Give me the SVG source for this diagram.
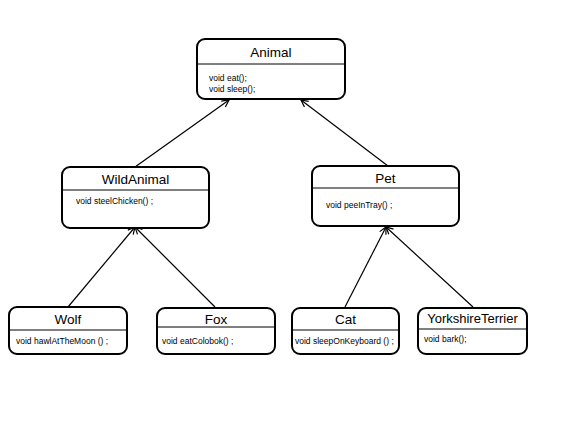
<svg xmlns="http://www.w3.org/2000/svg" width="570" height="428" viewBox="0 0 570 428">
<defs>
<marker id="arr" markerUnits="userSpaceOnUse" markerWidth="12" markerHeight="12" viewBox="-10 -6 12 12" refX="0" refY="0" orient="auto">
<path d="M-7,-3.5 L0,0 L-7,3.5" fill="none" stroke="#000" stroke-width="1.2"/>
</marker>
<style>
.box{fill:#fff;stroke:#000;stroke-width:2}
.div{stroke:#000;stroke-width:1}
.t{font-family:"Liberation Sans",Arial,sans-serif;font-size:13.5px;text-anchor:middle;fill:#000}
.m{font-family:"Liberation Sans",Arial,sans-serif;font-size:8.5px;fill:#000}
.c{stroke:#000;stroke-width:1.2;fill:none;marker-end:url(#arr)}
</style>
</defs>
<rect width="570" height="428" fill="#fff"/>
<g id="connectors">
<line class="c" x1="135" y1="167" x2="229" y2="100"/>
<line class="c" x1="388" y1="166" x2="301" y2="100"/>
<line class="c" x1="68" y1="307" x2="135" y2="227"/>
<line class="c" x1="215" y1="307" x2="135" y2="227"/>
<line class="c" x1="345" y1="307" x2="386" y2="227"/>
<line class="c" x1="473" y1="307" x2="386" y2="227"/>
</g>
<g id="Animal">
<rect class="box" x="197" y="39" width="148" height="60" rx="8"/>
<line class="div" x1="197" y1="64" x2="345" y2="64"/>
<text class="t" x="271" y="57">Animal</text>
<text class="m" x="209" y="81">void eat();</text>
<text class="m" x="209" y="92">void sleep();</text>
</g>
<g id="WildAnimal">
<rect class="box" x="62" y="167" width="147" height="61" rx="8"/>
<line class="div" x1="62" y1="190" x2="209" y2="190"/>
<text class="t" x="135.5" y="184">WildAnimal</text>
<text class="m" x="76" y="204">void steelChicken() ;</text>
</g>
<g id="Pet">
<rect class="box" x="312" y="166" width="147" height="60" rx="8"/>
<line class="div" x1="312" y1="188" x2="459" y2="188"/>
<text class="t" x="385.5" y="183">Pet</text>
<text class="m" x="326" y="208">void peeInTray() ;</text>
</g>
<g id="Wolf">
<rect class="box" x="9" y="307" width="118" height="47" rx="8"/>
<line class="div" x1="9" y1="330" x2="127" y2="330"/>
<text class="t" x="68" y="324">Wolf</text>
<text class="m" x="16" y="344">void hawlAtTheMoon () ;</text>
</g>
<g id="Fox">
<rect class="box" x="157" y="308" width="118" height="46" rx="8"/>
<line class="div" x1="157" y1="327" x2="275" y2="327"/>
<text class="t" x="216" y="324">Fox</text>
<text class="m" x="162" y="344">void eatColobok()  ;</text>
</g>
<g id="Cat">
<rect class="box" x="292" y="308" width="107" height="46" rx="8"/>
<line class="div" x1="292" y1="330" x2="399" y2="330"/>
<text class="t" x="345.5" y="324">Cat</text>
<text class="m" x="295" y="344">void sleepOnKeyboard () ;</text>
</g>
<g id="YorkshireTerrier">
<rect class="box" x="418" y="308" width="109" height="46" rx="8"/>
<line class="div" x1="418" y1="329" x2="527" y2="329"/>
<text class="t" x="472.5" y="323" style="font-size:13px">YorkshireTerrier</text>
<text class="m" x="424" y="342">void bark();</text>
</g>
</svg>
